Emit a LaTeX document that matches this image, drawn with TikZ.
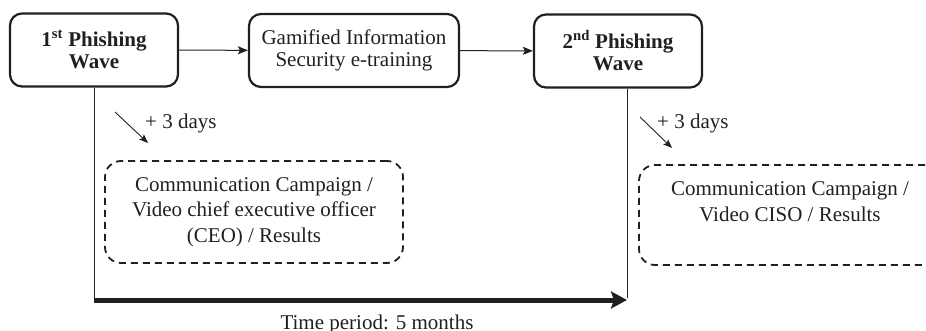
\documentclass[tikz,border=0pt]{standalone}
\usepackage{fontspec}
\setmainfont{Liberation Serif}
\usetikzlibrary{arrows.meta}
\definecolor{ink}{HTML}{231F20}
\begin{document}
\begin{tikzpicture}[x=1pt,y=-1pt,
  stage/.style={draw=ink, text=ink, line width=2.2pt, rounded corners=12pt,
    minimum height=73pt, align=center, inner sep=0pt,
    font=\fontsize{21}{22.5}\selectfont},
  campaign/.style={draw=ink, text=ink, line width=1.8pt, dash pattern=on 7pt off 5pt,
    rounded corners=16pt, align=center, inner sep=0pt,
    font=\fontsize{21}{25.5}\selectfont},
  flow/.style={draw=ink, line width=1pt, -{Stealth[length=10pt,width=8pt,inset=2pt]}},
  delay/.style={draw=ink, line width=0.9pt, -{Stealth[length=9pt,width=7pt,inset=2pt]}},
  label/.style={text=ink, inner sep=0pt, font=\fontsize{21}{25.5}\selectfont},
  timeline/.style={draw=ink, line width=5pt, -{Stealth[length=16pt,width=17pt,inset=3pt]}}
]
\useasboundingbox (0,0) rectangle (926,331);
\clip (0,0) rectangle (926,331);

% main stages
\node[stage, minimum width=168pt, font=\fontsize{21}{22.5}\selectfont\bfseries] (w1) at (94,50)
  {1\textsuperscript{st} Phishing\\Wave};
\node[stage, minimum width=210pt] (train) at (354,50.5)
  {Gamified Information\\Security e-training};
\node[stage, minimum width=168pt, font=\fontsize{21}{22.5}\selectfont\bfseries] (w2) at (618,51)
  {2\textsuperscript{nd} Phishing\\Wave};

\draw[flow] (w1) -- (train);
\draw[flow] (train) -- (w2);

% communication campaigns (the second one runs past the right edge)
\node[campaign, minimum width=298pt, minimum height=102pt] (c1) at (254,212)
  {Communication Campaign /\\Video chief executive officer\\(CEO) / Results};
\node[campaign, minimum width=302pt, minimum height=100pt] (c2) at (790,215)
  {Communication Campaign /\\Video CISO / Results\\[1.5pt]};

% delays after each wave
\coordinate (d1s) at (115,112);
\coordinate (d1e) at (148,143);
\draw[delay] (d1s) -- (d1e);
\node[label, anchor=base west] (d1) at (145,129) {+ 3 days};

\coordinate (d2s) at (640,117);
\coordinate (d2e) at (672,148);
\draw[delay] (d2s) -- (d2e);
\node[label, anchor=base west] (d2) at (657,129) {+ 3 days};

% timeline
\coordinate (t0) at (w1.south |- 0,300);
\coordinate (t1) at (627,300);
\coordinate (w2b) at (t1 |- w2.south);
\draw[ink, line width=1pt] (w1.south) -- (t0);
\draw[ink, line width=1pt] (w2b) -- ([yshift=2.5pt]t1);
\draw[timeline] ([xshift=-0.5pt]t0) -- (t1);
\node[label, anchor=base] (period) at (377,329) {Time period: 5 months};
\end{tikzpicture}
\end{document}
